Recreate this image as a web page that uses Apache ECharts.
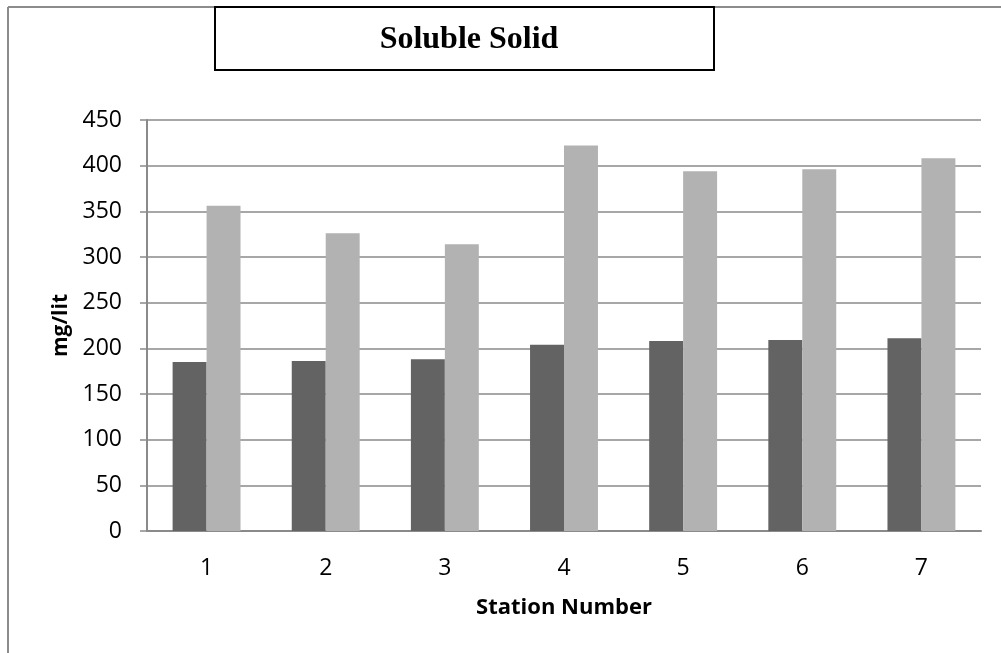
<!DOCTYPE html>
<html>
<head>
<meta charset="utf-8">
<script src="https://cdn.jsdelivr.net/npm/echarts@6/dist/echarts.min.js"></script>
<style>
html,body{margin:0;padding:0;background:#fff;}
#chart{width:1001px;height:653px;}
</style>
</head>
<body>
<div id="chart"></div>
<script>
const categories = ['1', '2', '3', '4', '5', '6', '7'];
const seriesA = [185, 186, 188, 204, 208, 209, 211];
const seriesB = [356, 326, 314, 422, 394, 396, 408];
const titleText = 'Soluble Solid';
const xName = 'Station Number';
const yName = 'mg/lit';

const chart = echarts.init(document.getElementById('chart'), null, {renderer: 'canvas'});
const gridColor = '#8a8a8a';
const labelFont = '"Open Sans", "Liberation Sans", sans-serif';

chart.setOption({
  animation: false,
  backgroundColor: '#ffffff',
  title: {
    text: titleText,
    left: 464,
    top: 19,
    textAlign: 'center',
    textStyle: {
      fontFamily: '"Liberation Serif", "DejaVu Serif", serif',
      fontWeight: 'bold',
      fontSize: 32,
      color: '#000'
    }
  },
  graphic: [
    {type: 'line', shape: {x1: 8, y1: 7, x2: 1001, y2: 7}, style: {stroke: '#8c8c8c', lineWidth: 2}, z: 0},
    {type: 'line', shape: {x1: 8, y1: 7, x2: 8, y2: 653}, style: {stroke: '#8c8c8c', lineWidth: 2}, z: 0},
    {type: 'rect', shape: {x: 215, y: 7, width: 499, height: 63}, style: {fill: '#fff', stroke: '#000', lineWidth: 2}, z: 1}
  ],
  grid: {left: 147, right: 20, top: 120, bottom: 122, containLabel: false},
  xAxis: {
    type: 'category',
    data: categories,
    name: xName,
    nameLocation: 'middle',
    nameGap: 66,
    nameTextStyle: {fontFamily: labelFont, fontWeight: 'bold', fontSize: 22, color: '#000'},
    axisLine: {show: true, lineStyle: {color: gridColor, width: 2}},
    axisTick: {show: false},
    axisLabel: {margin: 26, fontFamily: labelFont, fontSize: 23, color: '#000'},
    splitLine: {show: false}
  },
  yAxis: {
    type: 'value',
    min: 0,
    max: 450,
    interval: 50,
    name: yName,
    nameLocation: 'middle',
    nameGap: 52,
    nameRotate: 90,
    nameTextStyle: {fontFamily: labelFont, fontWeight: 'bold', fontSize: 21, color: '#000'},
    axisLine: {show: true, lineStyle: {color: gridColor, width: 2}},
    axisTick: {show: true, length: 7, lineStyle: {color: gridColor, width: 1.5}},
    axisLabel: {margin: 25, fontFamily: labelFont, fontSize: 23, color: '#000'},
    splitLine: {show: true, lineStyle: {color: gridColor, width: 1.5}}
  },
  series: [
    {type: 'bar', name: 'A', data: seriesA, barGap: '0%', barCategoryGap: '43%', itemStyle: {color: '#636363'}},
    {type: 'bar', name: 'B', data: seriesB, barGap: '0%', barCategoryGap: '43%', itemStyle: {color: '#b2b2b2'}}
  ]
});
</script>
</body>
</html>
